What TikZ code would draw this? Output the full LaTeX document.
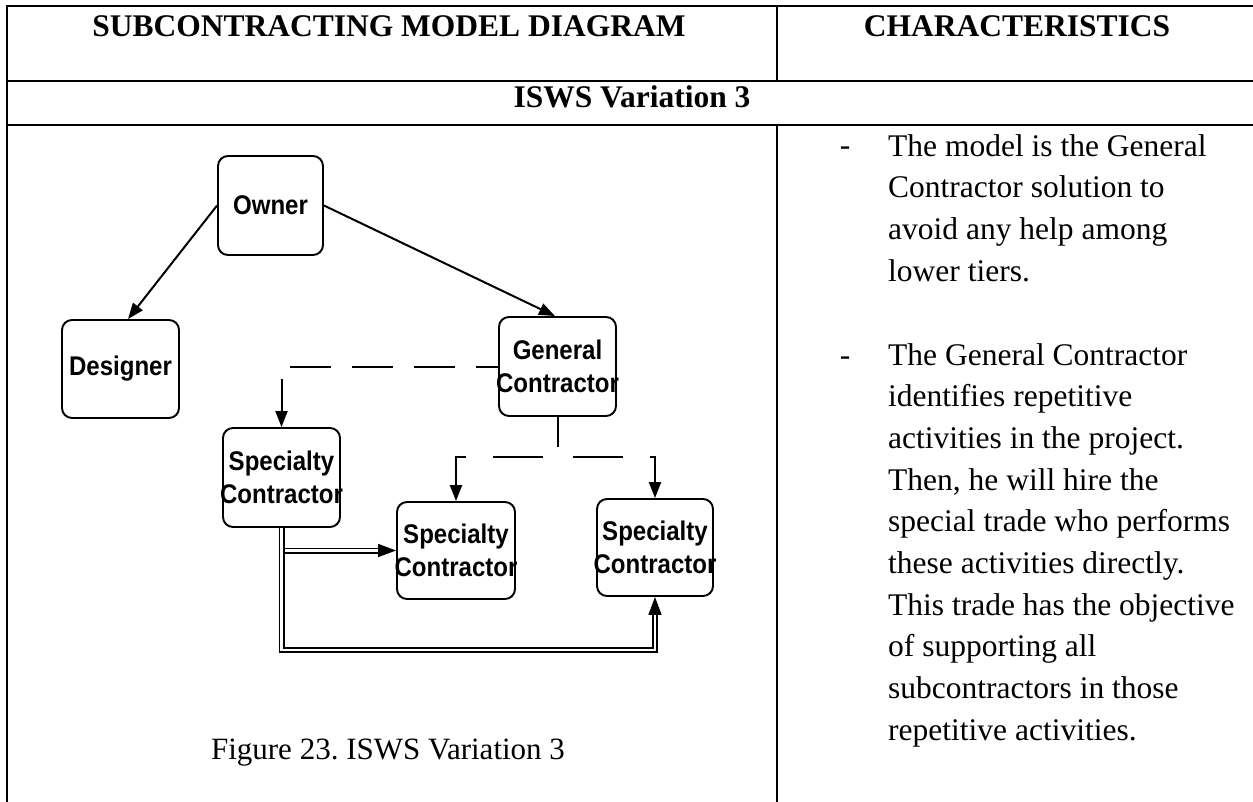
\documentclass[tikz,border=0pt]{standalone}
\usepackage{fontspec}
\setmainfont{Liberation Serif}
\newfontfamily\boxfont[FakeStretch=0.89]{Liberation Sans}
\usetikzlibrary{arrows.meta}
\frenchspacing

% zero-width centred line, so long words may run over a box edge
\newcommand{\zb}[1]{\makebox[0pt]{#1}}

\begin{document}
\begin{tikzpicture}[x=1pt,y=-1pt,
  rule/.style={line width=2pt},
  entity/.style={draw, line width=1.9pt, rounded corners=10pt, inner sep=0pt,
    align=center, font=\boxfont\bfseries\fontsize{27}{33}\selectfont},
  link/.style={line width=2pt, -{Triangle[length=16pt,width=12pt]}},
  dashlink/.style={link, dash pattern=on 41pt off 21pt},
  forklink/.style={link, dash pattern=on 50pt off 27pt, dash phase=62pt},
  dbl/.style={double, double distance=2.8pt, line width=1.6pt,
    -{Triangle[length=18pt,width=13pt]}},
  body/.style={font=\fontsize{31.5}{41.7}\selectfont\frenchspacing, inner sep=0pt, align=left},
  head/.style={font=\bfseries\fontsize{31.5}{37}\selectfont, inner sep=0pt},
]
\useasboundingbox (0,0) rectangle (1253,802);

% table frame
\draw[rule, line cap=rect] (7,802) -- (7,6) -- (1253,6);
\draw[rule] (7,81) -- (1253,81);
\draw[rule] (7,125) -- (1253,125);
\draw[rule] (777,6) -- (777,81);
\draw[rule] (777,125) -- (777,802);

% headings
\node[head, anchor=base] (hdiag) at (389,37) {SUBCONTRACTING MODEL DIAGRAM};
\node[head, anchor=base] (hchar) at (1017,37) {CHARACTERISTICS};
\node[head, anchor=base] (hvar) at (632,108) {ISWS Variation 3};

% organisation chart
\node[entity, minimum width=105pt, minimum height=99pt] (owner) at (270.5,205.5) {\zb{Owner}};
\node[entity, minimum width=117pt, minimum height=98pt] (designer) at (120.5,369) {\zb{Designer}};
\node[entity, minimum width=117pt, minimum height=99pt] (gc) at (557.5,366.5) {\zb{General}\\\zb{Contractor}};
\node[entity, minimum width=117pt, minimum height=99pt] (sc1) at (281.5,477.5) {\zb{Specialty}\\\zb{Contractor}};
\node[entity, minimum width=118pt, minimum height=97pt] (sc2) at (456,550.5) {\zb{Specialty}\\\zb{Contractor}};
\node[entity, minimum width=116pt, minimum height=97pt] (sc3) at (655,547.5) {\zb{Specialty}\\\zb{Contractor}};

\coordinate (stem) at (557.5,447);
\coordinate (fork) at (557.5,457);
\coordinate (loop) at (281.5,650);

\draw[link] (owner.west) -- ([xshift=7.5pt]designer.north);
\draw[link] (owner.east) -- ([xshift=-2.5pt]gc.north);
\draw[dashlink, dash phase=19pt] (gc.west) -| (sc1.north);
\draw[line width=2pt] (gc.south) -- (stem);
\draw[forklink] (fork) -| (sc2.north);
\draw[forklink] (fork) -| (sc3.north);
\draw[dbl] (sc1.south) |- (sc2.west);
\draw[dbl] (sc1.south) -- (loop) -| (sc3.south);

\node[body, font=\fontsize{31}{40}\selectfont\frenchspacing, anchor=base] (caption) at (388,759) {Figure 23. ISWS Variation 3};

% characteristics
\node[body, anchor=base] (dash1) at (845,156) {-};
\node[body, anchor=base] (dash2) at (845,365) {-};
\node[body, anchor=north west] (item1) at (888,134) {The model is the General\\Contractor solution to\\avoid any help among\\lower tiers.};
\node[body, anchor=north west] (item2) at (888,343) {The General Contractor\\identifies repetitive\\activities in the project.\\Then, he will hire the\\special trade who performs\\these activities directly.\\This trade has the objective\\of supporting all\\subcontractors in those\\repetitive activities.};
\end{tikzpicture}
\end{document}
